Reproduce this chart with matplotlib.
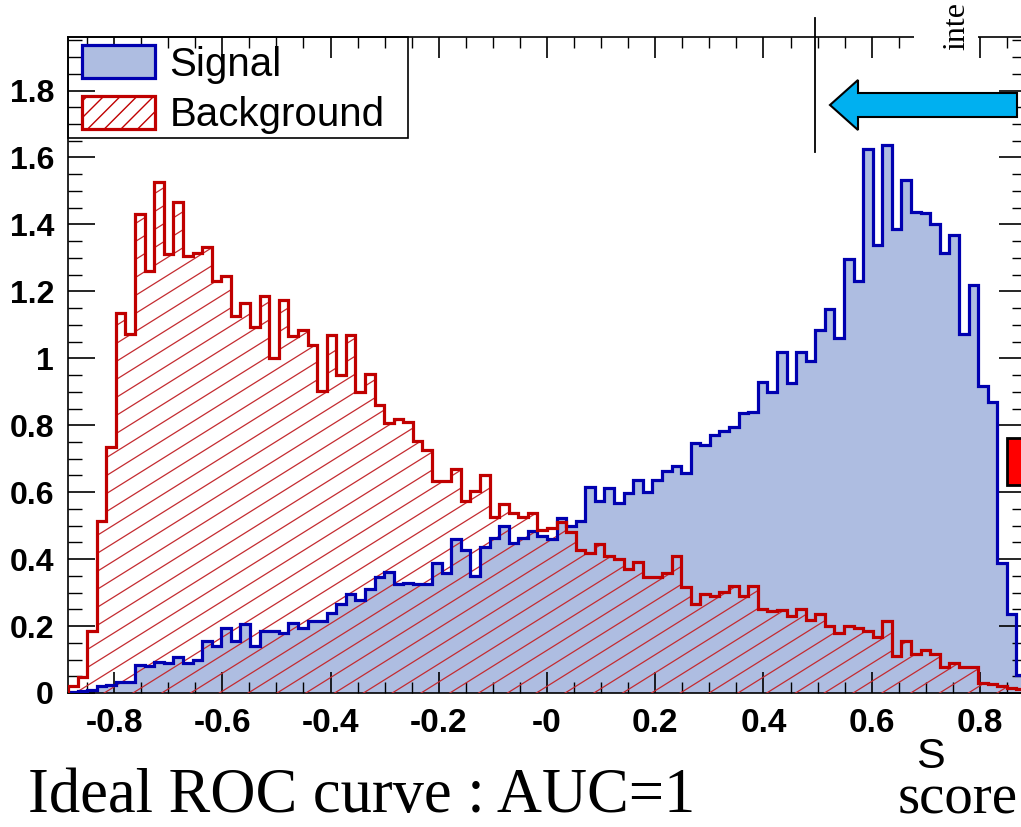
import numpy as np
import matplotlib
matplotlib.use("Agg")
import matplotlib.pyplot as plt
from matplotlib.patches import Patch, Polygon, Rectangle
from matplotlib.collections import LineCollection
from matplotlib.ticker import FixedLocator, FixedFormatter, MultipleLocator

# ---------------- data ----------------
signal = [0.003, 0.005, 0.008, 0.021, 0.025, 0.032, 0.032, 0.085, 0.080, 0.094,
          0.090, 0.107, 0.090, 0.100, 0.155, 0.140, 0.195, 0.155, 0.205, 0.141,
          0.184, 0.184, 0.178, 0.209, 0.193, 0.214, 0.214, 0.240, 0.267, 0.297,
          0.278, 0.312, 0.348, 0.362, 0.326, 0.328, 0.326, 0.326, 0.387, 0.358,
          0.460, 0.428, 0.351, 0.437, 0.463, 0.500, 0.449, 0.462, 0.484, 0.470,
          0.460, 0.524, 0.500, 0.513, 0.615, 0.575, 0.612, 0.569, 0.599, 0.636,
          0.600, 0.636, 0.663, 0.679, 0.658, 0.747, 0.740, 0.770, 0.783, 0.794,
          0.837, 0.840, 0.930, 0.898, 1.019, 0.927, 1.019, 0.991, 1.086, 1.148,
          1.061, 1.296, 1.230, 1.624, 1.339, 1.638, 1.385, 1.532, 1.436, 1.433,
          1.401, 1.316, 1.367, 1.073, 1.219, 0.917, 0.868, 0.387, 0.237, 0.053]
background = [0.021, 0.048, 0.184, 0.513, 0.736, 1.134, 1.072, 1.430, 1.262, 1.526,
              1.313, 1.467, 1.305, 1.316, 1.332, 1.232, 1.246, 1.126, 1.164, 1.094,
              1.187, 1.000, 1.174, 1.067, 1.086, 1.040, 0.902, 1.070, 0.950, 1.070,
              0.900, 0.952, 0.861, 0.807, 0.820, 0.810, 0.754, 0.725, 0.633, 0.633,
              0.668, 0.575, 0.604, 0.650, 0.526, 0.565, 0.538, 0.526, 0.539, 0.488,
              0.494, 0.511, 0.481, 0.428, 0.417, 0.444, 0.409, 0.401, 0.369, 0.390,
              0.348, 0.348, 0.358, 0.409, 0.316, 0.267, 0.297, 0.289, 0.302, 0.319,
              0.291, 0.321, 0.251, 0.244, 0.248, 0.230, 0.251, 0.219, 0.237, 0.201,
              0.180, 0.201, 0.195, 0.184, 0.166, 0.216, 0.112, 0.155, 0.118, 0.128,
              0.118, 0.077, 0.091, 0.077, 0.077, 0.030, 0.027, 0.021, 0.016, 0.011]
x_lo, x_hi, n_bins = -0.885, 0.885, 100
y_max = 1.96
xtick_vals = [-0.8, -0.6, -0.4, -0.2, 0.0, 0.2, 0.4, 0.6, 0.8]
xtick_labels = ["-0.8", "-0.6", "-0.4", "-0.2", "-0", "0.2", "0.4", "0.6", "0.8"]
ytick_vals = [0, 0.2, 0.4, 0.6, 0.8, 1.0, 1.2, 1.4, 1.6, 1.8]
ytick_labels = ["0", "0.2", "0.4", "0.6", "0.8", "1", "1.2", "1.4", "1.6", "1.8"]
legend_labels = ["Signal", "Background"]

# ---------------- styles ----------------
SIG_FILL = "#aebde1"
SIG_LINE = "#0000b0"
BKG_LINE = "#c00000"
HATCH_C = "#c42b30"

W, H = 1021, 827
fig = plt.figure(figsize=(W / 100, H / 100), dpi=100)
fig.patch.set_facecolor("white")

ax_l, ax_r, ax_t, ax_b = 68, 1026, 37, 693
ax = fig.add_axes([ax_l / W, 1 - ax_b / H, (ax_r - ax_l) / W, (ax_b - ax_t) / H])
ax.set_xlim(x_lo, x_hi)
ax.set_ylim(0, y_max)
edges = np.linspace(x_lo, x_hi, n_bins + 1)

ax.stairs(signal, edges, fill=True, facecolor=SIG_FILL, edgecolor="none", zorder=1)
bkg_area = ax.stairs(background, edges, fill=True, facecolor="none",
                     edgecolor="none", zorder=2)

# ROOT-like hatch (about 32 degrees) clipped to the background histogram
px_x = (ax_r - ax_l) / (x_hi - x_lo)
px_y = (ax_b - ax_t) / y_max
slope = np.tan(np.deg2rad(32)) * px_x / px_y
step = 18.0 / px_y
span = x_hi - x_lo
segs = [[(x_lo, c), (x_hi, c + slope * span)]
        for c in np.arange(-slope * span, y_max + step, step)]
lc = LineCollection(segs, colors=HATCH_C, linewidths=0.9, zorder=3)
ax.add_collection(lc, autolim=False)
lc.set_clip_path(bkg_area)

ax.stairs(signal, edges, baseline=0, color=SIG_LINE, lw=2.3, zorder=4)
ax.stairs(background, edges, baseline=0, color=BKG_LINE, lw=2.3, zorder=5)

# ticks
ax.xaxis.set_major_locator(FixedLocator(xtick_vals))
ax.xaxis.set_major_formatter(FixedFormatter(xtick_labels))
ax.xaxis.set_minor_locator(MultipleLocator(0.05))
ax.yaxis.set_major_locator(FixedLocator(ytick_vals))
ax.yaxis.set_major_formatter(FixedFormatter(ytick_labels))
ax.yaxis.set_minor_locator(MultipleLocator(0.05))
ax.tick_params(axis="both", which="both", direction="in", top=True, right=True,
               color="black")
ax.tick_params(axis="x", which="major", length=15, width=1.2, pad=11, labelsize=24)
ax.tick_params(axis="x", which="minor", length=8, width=1.0)
ax.tick_params(axis="y", which="major", length=19.5, width=1.2, pad=10, labelsize=23)
ax.tick_params(axis="y", which="minor", length=10, width=1.0)
for lab in ax.get_xticklabels() + ax.get_yticklabels():
    lab.set_fontfamily("Liberation Sans")
    lab.set_fontweight("bold")
for sp in ax.spines.values():
    sp.set_linewidth(1.2)
    sp.set_color("black")

# legend
h_sig = Patch(facecolor=SIG_FILL, edgecolor=SIG_LINE, linewidth=2.3)
h_bkg = Patch(facecolor="white", edgecolor=BKG_LINE, hatch="//", linewidth=2.3)
leg = ax.legend([h_sig, h_bkg], legend_labels, loc="upper left",
                bbox_to_anchor=(82 / W, 1 - 45 / H), bbox_transform=fig.transFigure,
                frameon=False, prop={"family": "Liberation Sans", "size": 29},
                handlelength=1.8, handleheight=0.9, handletextpad=0.37,
                labelspacing=0.3, borderpad=0.0, borderaxespad=0)
leg.set_zorder(6)

# ---------------- overlay (slide annotations, pixel coordinates) ----------------
ov = fig.add_axes([0, 0, 1, 1], zorder=10)
ov.set_xlim(0, W)
ov.set_ylim(H, 0)
ov.axis("off")
ov.patch.set_alpha(0)

ov.add_patch(Rectangle((68, 37), 340, 101, facecolor="none", edgecolor="black", lw=1.2))
ov.add_patch(Rectangle((914, 0), 64, 50, facecolor="white", edgecolor="none"))
ov.text(957, 50, "inte", rotation=90, ha="center", va="bottom",
        family="Liberation Serif", fontsize=23, color="black")
ov.plot([815, 815], [18, 152], color="black", lw=1.3)
ov.add_patch(Polygon([(830, 105), (858, 80), (858, 93), (1017, 93), (1017, 117),
                      (858, 117), (858, 130)], closed=True,
                     facecolor="#00b0f0", edgecolor="black", lw=1.5))
ov.add_patch(Rectangle((1007, 438), 20, 47, facecolor="#ff0000", edgecolor="black", lw=2))
ov.text(930, 757, "S", ha="center", va="center", family="Liberation Sans",
        fontsize=31, color="black")
ov.text(898, 826, "score", ha="left", va="bottom", family="Liberation Serif",
        fontsize=41, color="black")
ov.text(28, 826, "Ideal ROC curve : AUC=1", ha="left", va="bottom",
        family="Liberation Serif", fontsize=45, color="black")

fig.savefig("out.png", dpi=100)
